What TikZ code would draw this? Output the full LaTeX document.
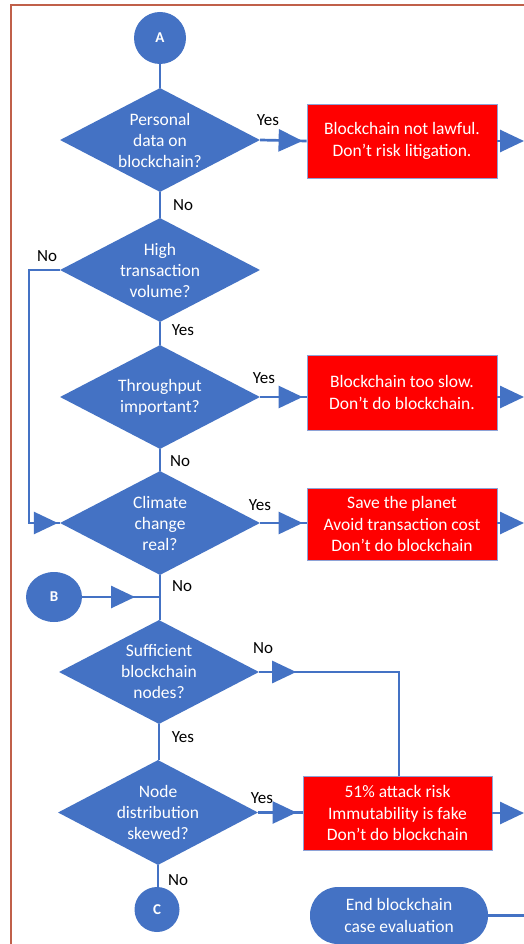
\documentclass[tikz,border=0pt]{standalone}
\usepackage{fontspec}
\setmainfont{Carlito}
\usetikzlibrary{shapes.geometric,arrows.meta,decorations.markings,calc}
\definecolor{bl}{HTML}{4472C4}
\definecolor{rd}{HTML}{FF0000}
\definecolor{frm}{HTML}{C0604A}
\definecolor{rbd}{HTML}{8EA2D6}
\begin{document}
\begin{tikzpicture}[x=1pt,y=-1pt,
  dia/.style={diamond, fill=bl, minimum width=200pt, minimum height=104pt, inner sep=0pt},
  dtext/.style={text=white, align=center, inner sep=0pt, font=\fontsize{17.5}{21}\selectfont},
  redbox/.style={rectangle, fill=rd, draw=rbd, line width=0.8pt, minimum width=190pt, minimum height=74pt, text=white, align=center, inner sep=0pt, font=\fontsize{17.5}{21.5}\selectfont},
  conn/.style={draw=bl, line width=2.7pt},
  endtip/.style={-{Triangle[length=24pt,width=22pt]}},
  midarr/.style={postaction={decorate}, decoration={markings, mark=at position #1 with {\arrow{Triangle[length=24pt,width=22pt]}}}},
  lbl/.style={font=\fontsize{17}{18}\selectfont, text=black, inner sep=0pt},
  conncirc/.style={circle, fill=bl, inner sep=0pt, text=white, font=\bfseries\fontsize{15}{16}\selectfont},
]
\useasboundingbox (0,0) rectangle (523,944);
\fill[white] (0,0) rectangle (523,944);
\draw[frm, line width=2.5pt] (11,960) -- (11,5) -- (540,5);

\coordinate (rx) at (524,0);
\coordinate (ex) at (540,0);
\coordinate (lx) at (29,0);
\coordinate (nx) at (399,0);

% nodes
\node[conncirc, minimum size=52pt] (A) at (160,38) {A};
\node[dia] (d1) at (160,140) {};
\node[dtext] (t1) at (d1) {Personal\\data on\\blockchain?};
\node[redbox] (r1) at (402,141) {Blockchain not lawful.\\Don’t risk litigation.};

\node[dia] (d2) at (160,270) {};
\node[dtext] (t2) at (d2) {High\\transaction\\volume?};

\node[dia] (d3) at (160,397) {};
\node[dtext] (t3) at (d3) {Throughput\\important?};
\node[redbox, minimum height=75pt] (r2) at (402,392.5) {Blockchain too slow.\\Don’t do blockchain.};

\node[dia] (d4) at (160,523) {};
\node[dtext] (t4) at (d4) {Climate\\change\\real?};
\node[redbox, minimum height=72pt] (r3) at (402,524) {Save the planet\\Avoid transaction cost\\Don’t do blockchain};

\node[ellipse, fill=bl, inner sep=0pt, minimum width=56pt, minimum height=50pt, text=white, font=\bfseries\fontsize{15}{16}\selectfont] (B) at (54,597) {B};

\node[dia] (d5) at (159,672) {};
\node[dtext] (t5) at (d5) {Sufficient\\blockchain\\nodes?};

\node[dia, minimum height=105pt] (d6) at (158,812.5) {};
\node[dtext] (t6) at (d6) {Node\\distribution\\skewed?};
\node[redbox, minimum width=189pt] (r4) at (397.5,813) {51\% attack risk\\Immutability is fake\\Don’t do blockchain};

\node[conncirc, minimum size=45pt] (C) at (157,909.5) {C};

\node[rectangle, rounded corners=28pt, fill=bl, minimum width=178pt, minimum height=57pt, text=white, align=center, inner sep=0pt, font=\fontsize{17.5}{21.5}\selectfont] (E) at (399,915.5) {End blockchain\\case evaluation};

% connectors
\draw[conn] (A) -- (d1.north);
\draw[conn, midarr=-4pt] (d1.east) -- (r1.west);
\draw[conn, endtip] (r1.east) -- (r1.east -| rx);
\draw[conn] (d1.south) -- (d2.north);
\draw[conn, midarr=-2pt] (d2.west) -- (d2.west -| lx) -- (d4.west -| lx) -- (d4.west);
\draw[conn] (d2.south) -- (d3.north);
\draw[conn, midarr=-4pt] (d3.east) -- (d3.east -| r2.west);
\draw[conn, endtip] (d3.east -| r2.east) -- (d3.east -| rx);
\draw[conn] (d3.south) -- (d4.north);
\draw[conn, midarr=-4pt] (d4.east) -- (d4.east -| r3.west);
\draw[conn, endtip] (d4.east -| r3.east) -- (d4.east -| rx);
\draw[conn] (d4.south) -- (d4.south |- d5.north);
\draw[conn, midarr=-25pt] (B.east) -- (B.east -| d4.south);
\draw[conn, midarr=37pt] (d5.east) -- (d5.east -| nx) -- (r4.north -| nx);
\draw[conn] (d5.south) -- (d5.south |- d6.north);
\draw[conn, midarr=-6pt] (d6.east) -- (d6.east -| r4.west);
\draw[conn, endtip] (r4.east) -- (r4.east -| rx);
\draw[conn] (d6.south) -- (d6.south |- C.north);
\draw[conn] (E.east) -- (E.east -| ex);

% labels
\node[lbl] (y1) at (268,120) {Yes};
\node[lbl] (n1) at (183,205) {No};
\node[lbl] (n2) at (47,256) {No};
\node[lbl] (y2) at (183,330) {Yes};
\node[lbl] (y3) at (264,378) {Yes};
\node[lbl] (n3) at (180,461) {No};
\node[lbl] (y4) at (260,505) {Yes};
\node[lbl] (n4) at (182,586) {No};
\node[lbl] (n5) at (263,648) {No};
\node[lbl] (y5) at (183,737) {Yes};
\node[lbl] (y6) at (262,798) {Yes};
\node[lbl] (n6) at (178,880) {No};
\end{tikzpicture}
\end{document}
